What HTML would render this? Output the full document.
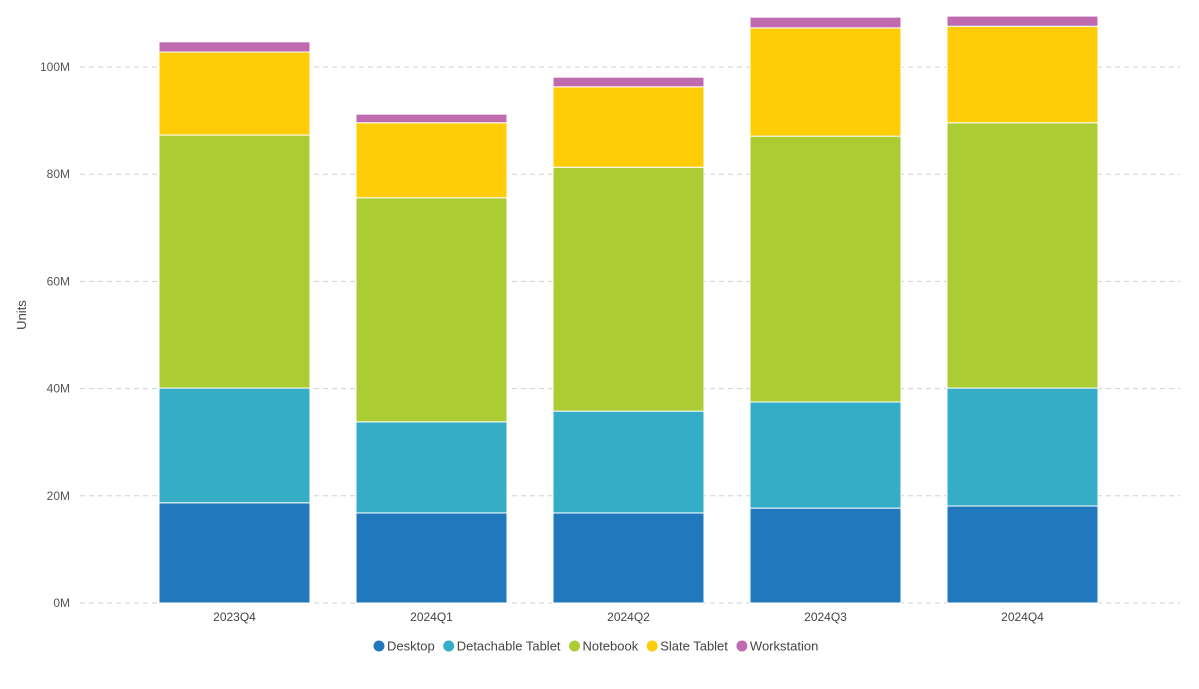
<!DOCTYPE html>
<html><head><meta charset="utf-8"><style>
body{margin:0;background:#fff;font-family:"Liberation Sans",sans-serif;}
svg text{font-family:"Liberation Sans",sans-serif;}
</style></head><body>
<svg id="chart" width="1199" height="684" xmlns="http://www.w3.org/2000/svg">
<g id="grid"></g>
<g id="yticks"></g>
<text x="26" y="315" transform="rotate(-90 26 315)" text-anchor="middle" font-size="13" fill="#444">Units</text>
<g id="bars"></g>
<g id="xticks"></g>
<g id="legend"></g>
</svg>
<script>
const categories=["2023Q4","2024Q1","2024Q2","2024Q3","2024Q4"];
const seriesNames=["Desktop","Detachable Tablet","Notebook","Slate Tablet","Workstation"];
const desktop=[18.7,16.8,16.8,17.7,18.1];
const detachable=[21.4,17.0,19.0,19.8,22.0];
const notebook=[47.2,41.8,45.5,49.6,49.5];
const slate=[15.5,14.0,15.0,20.2,18.0];
const workstation=[1.9,1.6,1.8,2.0,1.9];
const yTicks=[0,20,40,60,80,100];
const colors=["#2178BD","#35ADC7","#ACCC33","#FFCC08","#C06BB0"];
const series=[desktop,detachable,notebook,slate,workstation];
const NS="http://www.w3.org/2000/svg";
const y0=603,pxPerM=5.36;
const yScale=v=>y0-v*pxPerM;
const bandStart=136,step=197,barW=151,off=23;
const xScale=i=>bandStart+i*step+off;
function mk(tag,attrs,parent){const e=document.createElementNS(NS,tag);for(const k in attrs)e.setAttribute(k,attrs[k]);parent.appendChild(e);return e;}
const grid=document.getElementById('grid'),yt=document.getElementById('yticks');
yTicks.forEach(t=>{
  const l=mk('line',{x1:80,x2:1180,y1:yScale(t),y2:yScale(t),stroke:'#d0d0d0','stroke-dasharray':'5,4'},grid);
  
  
  const tx=mk('text',{x:70,y:yScale(t)+4,'text-anchor':'end','font-size':12,fill:'#555'},yt);
  tx.textContent=t+'M';
  
  
});
const bars=document.getElementById('bars'),xt=document.getElementById('xticks');
categories.forEach((c,i)=>{
  let cum=0;
  series.forEach((s,j)=>{
    const top=yScale(cum+s[i]),bot=yScale(cum);
    const r=mk('rect',{x:xScale(i),y:top,width:barW,height:bot-top,fill:colors[j],stroke:'#fff','stroke-width':1},bars);
    
    
    cum+=s[i];
  });
  const tx=mk('text',{x:xScale(i)+barW/2,y:621,'text-anchor':'middle','font-size':12,fill:'#444'},xt);
  tx.textContent=c;
  
  
});
const lg=document.getElementById('legend');
let lx=373;
seriesNames.forEach((n,j)=>{
  const g=mk('g',{},lg);
  
  
  mk('circle',{cx:lx+6,cy:646,r:5.5,fill:colors[j]},g);
  const t=mk('text',{x:lx+14,y:650.5,'font-size':13,fill:'#444'},g);
  t.textContent=n;
  lx+=14+t.getComputedTextLength()+8;
});
</script>
</body></html>
